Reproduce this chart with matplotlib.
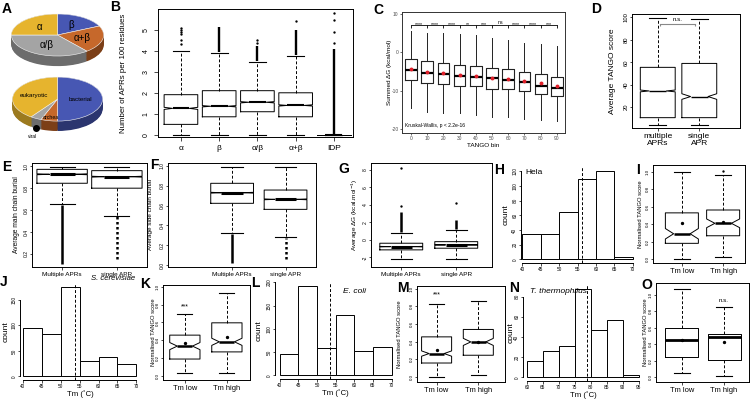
import numpy as np
import matplotlib.pyplot as plt

plt.rcParams['font.family'] = ['Liberation Sans', 'DejaVu Sans']
plt.rcParams['axes.linewidth'] = 0.7

# ---------------- DATA ----------------
# A: pies
a_struct_labels = ['β', 'α+β', 'α/β', 'α']
a_struct_fracs = [0.18, 0.21, 0.36, 0.25]
a_org_labels = ['bacterial', 'archea', 'viral', 'eukaryotic']
a_org_fracs = [0.50, 0.06, 0.04, 0.40]

# B: APRs per 100 residues
b_groups = ['α', 'β', 'α/β', 'α+β', 'IDP']
b_whislo = [0.0, 0.0, 0.0, 0.0, 0.0]
b_q1 = [0.52, 0.88, 1.12, 0.88, 0.0]
b_med = [1.28, 1.38, 1.57, 1.42, 0.0]
b_q3 = [1.93, 2.12, 2.12, 2.02, 0.0]
b_whishi = [4.0, 3.92, 3.5, 3.75, 0.0]
b_notch = [0.05, 0.03, 0.03, 0.03, 0.0]
b_fliers = [[4.35, 4.55, 4.8, 4.9, 5.0, 5.1], [], [4.4, 4.55], [5.45], [4.4, 4.9, 5.5, 5.8]]
b_dense = [None, (3.95, 5.15), (3.55, 4.25), (3.8, 5.0), (0.05, 4.1)]

# C: summed dG per TANGO bin
c_bins = ['0', '10', '20', '30', '40', '50', '60', '70', '80', '90']
c_whislo = [-14.6, -15.6, -15.9, -15.9, -16.4, -16.9, -16.9, -17.4, -17.7, -17.9]
c_q1 = [-7.2, -8.0, -8.3, -8.7, -8.7, -9.5, -9.5, -10.2, -11.0, -11.5]
c_med = [-4.6, -5.4, -5.7, -6.1, -6.4, -6.7, -7.2, -7.7, -8.7, -9.2]
c_q3 = [-1.8, -2.3, -2.8, -3.3, -3.6, -4.1, -4.4, -5.1, -5.7, -6.4]
c_whishi = [5.4, 4.9, 4.9, 4.6, 4.4, 3.6, 3.1, 2.4, 2.0, 1.5]
c_mean = [-4.4, -5.1, -5.5, -5.9, -6.2, -6.6, -7.0, -7.5, -8.1, -8.7]
c_sig = ['****', '****', '****', '**', '***', 'ns', '****', '****', '***']

# D: average TANGO score
d_groups = ['multiple\nAPRs', 'single\nAPR']
d_whislo = [4.5, 4.5]
d_q1 = [10.7, 10.7]
d_med = [34.5, 29.5]
d_q3 = [55.5, 59.0]
d_whishi = [99.5, 98.5]
d_notch = [0.8, 2.5]

# E, F, G: burial and dG, multiple vs single APR
efg_groups = ['Multiple APRs', 'single APR']
e_whislo = [0.653, 0.55]
e_q1 = [0.845, 0.80]
e_med = [0.927, 0.905]
e_q3 = [0.972, 0.96]
e_whishi = [0.995, 0.995]
e_dense = [(0.11, 0.645), (0.15, 0.545)]

f_whislo = [0.32, 0.286]
f_q1 = [0.623, 0.562]
f_med = [0.73, 0.663]
f_q3 = [0.825, 0.757]
f_whishi = [0.99, 0.99]
f_dense = [(0.02, 0.31), (0.06, 0.275)]

g_whislo = [-2.2, -2.2]
g_q1 = [-1.14, -0.95]
g_med = [-0.77, -0.57]
g_q3 = [-0.38, -0.2]
g_whishi = [0.83, 1.14]
g_fliers = [[3.9, 8.2], [4.2]]
g_dense = [(0.9, 3.25), (1.2, 2.3)]

# H, J, L, N: Tm histograms
h_edges = [40, 45, 50, 55, 60, 65, 70]
h_counts = [35, 34, 64, 110, 121, 3]
h_tm = 56.1
j_edges = [40, 45, 50, 55, 60, 65, 70]
j_counts = [94, 84, 176, 30, 38, 25]
j_tm = 53.8
l_edges = [40, 45, 50, 55, 60, 65, 70]
l_counts = [45, 193, 58, 130, 52, 61]
l_tm = 53.5
n_edges = [60, 65, 70, 75, 80, 85, 90, 95]
n_counts = [16, 26, 31, 88, 47, 57, 2]
n_tm = 78.8

# I, K, M, O: normalised TANGO score, Tm low vs Tm high
tm_groups = ['Tm low', 'Tm high']
i_whislo = [0.0, 0.026]
i_q1 = [0.18, 0.267]
i_med = [0.29, 0.41]
i_q3 = [0.53, 0.563]
i_whishi = [1.0, 0.97]
i_mean = [0.41, 0.43]
i_notch = [0.06, 0.05]
i_fliers = [[], [1.01]]

k_whislo = [0.028, 0.035]
k_q1 = [0.19, 0.27]
k_med = [0.335, 0.383]
k_q3 = [0.458, 0.596]
k_whishi = [0.694, 0.927]
k_mean = [0.365, 0.44]
k_notch = [0.04, 0.04]

m_whislo = [0.0, 0.019]
m_q1 = [0.158, 0.246]
m_med = [0.265, 0.397]
m_q3 = [0.454, 0.538]
m_whishi = [0.83, 0.863]
m_mean = [0.31, 0.40]
m_notch = [0.03, 0.04]

o_whislo = [0.048, 0.016]
o_q1 = [0.25, 0.21]
o_med = [0.453, 0.486]
o_q3 = [0.595, 0.526]
o_whishi = [1.07, 0.85]
o_mean = [0.453, 0.433]

# ---------------- HELPERS ----------------
W, H = 750, 400
fig = plt.figure(figsize=(7.5, 4), dpi=100)


def px_axes(x0, y0, x1, y1):
    return fig.add_axes([x0 / W, 1 - y1 / H, (x1 - x0) / W, (y1 - y0) / H])


def letter(x, y, s):
    fig.text(x / W, 1 - y / H, s, fontsize=10, fontweight='bold', va='top', ha='left')


def ylab(ax, text, right_px, size):
    ax.set_ylabel(text, fontsize=size)
    pos = ax.get_position()
    ax.yaxis.set_label_coords((right_px / W - pos.x0) / pos.width, 0.5)


def make_stats(whislo, q1, med, q3, whishi, notch=None, fliers=None, mean=None):
    out = []
    for i in range(len(med)):
        s = dict(whislo=whislo[i], q1=q1[i], med=med[i], q3=q3[i], whishi=whishi[i],
                 fliers=fliers[i] if fliers is not None else [])
        if notch is not None:
            s['cilo'] = med[i] - notch[i]
            s['cihi'] = med[i] + notch[i]
        if mean is not None:
            s['mean'] = mean[i]
        out.append(s)
    return out


def rbox(ax, stats, positions, width, notch=True, med_lw=2.0, means=False):
    ax.bxp(stats, positions=positions, widths=width, shownotches=notch, showmeans=means,
           capwidths=width * 0.5, manage_ticks=False,
           boxprops=dict(color='black', linewidth=0.7),
           whiskerprops=dict(color='black', linewidth=0.7, linestyle=(0, (3, 2))),
           capprops=dict(color='black', linewidth=0.8),
           medianprops=dict(color='black', linewidth=med_lw, solid_capstyle='butt'),
           meanprops=dict(marker='o', markersize=1.4, markerfacecolor='black',
                          markeredgecolor='black'),
           flierprops=dict(marker='o', markersize=1.7, markerfacecolor='black',
                           markeredgecolor='none', linestyle='none'))


def dense(ax, positions, ranges, styles, lw=1.6):
    for p, r, st in zip(positions, ranges, styles):
        if r is not None:
            ax.vlines(p, r[0], r[1], colors='black', linewidth=lw, linestyles=st)


def r_yticks(ax, ticks, labels, size=3.6):
    ax.set_yticks(ticks)
    ax.set_yticklabels(labels, rotation=90, va='center', fontsize=size)
    ax.tick_params(axis='y', length=1.8, width=0.5, pad=0.8)


def r_xticks(ax, ticks, labels, size=5, pad=1.5, length=1.8):
    ax.set_xticks(ticks)
    ax.set_xticklabels(labels, fontsize=size)
    ax.tick_params(axis='x', length=length, width=0.5, pad=pad)


def r_hist(ax, edges, counts, tm, xlim, yticks, label, lab_pos, italic=False, ha='left',
           size=6):
    widths = np.diff(edges)
    ax.bar(edges[:-1], counts, width=widths, align='edge', color='white',
           edgecolor='black', linewidth=0.7)
    ax.axvline(tm, color='black', linestyle=(0, (3, 2)), linewidth=0.7)
    top = max(counts)
    ax.set_xlim(xlim)
    ax.set_ylim(-0.04 * top, max(1.04 * top, yticks[-1]))
    for s in ['top', 'right']:
        ax.spines[s].set_visible(False)
    ax.spines['left'].set_bounds(yticks[0], yticks[-1])
    ax.spines['bottom'].set_bounds(edges[0], edges[-1])
    r_yticks(ax, yticks, [str(t) for t in yticks], size=3.4)
    r_xticks(ax, edges, [str(t) for t in edges], size=3.4, pad=1)
    ax.text(lab_pos[0], lab_pos[1], label, transform=ax.transAxes, fontsize=size,
            style='italic' if italic else 'normal', ha=ha, va='center', clip_on=False)


def pie3d(ax, fracs, cols, sides, depth, xlim, ylim):
    for d in np.linspace(depth, 0.0, 16):
        ax.pie(fracs, colors=sides, startangle=90, counterclock=False, center=(0, -d),
               wedgeprops=dict(linewidth=0))
    ax.pie(fracs, colors=cols, startangle=90, counterclock=False,
           wedgeprops=dict(linewidth=0.4, edgecolor='#f4f4f4'))
    ax.set_aspect('auto')
    ax.set_xlim(xlim)
    ax.set_ylim(ylim)
    ax.axis('off')


def pie_label_pos(fracs, i, r):
    start = 90 - 360 * sum(fracs[:i])
    mid = np.deg2rad(start - 180 * fracs[i])
    return r * np.cos(mid), r * np.sin(mid)


yellow, blue, orange, grey = '#e6b42e', '#4757b3', '#c6682b', '#a4a4a4'
yellow_d, blue_d, orange_d, grey_d = '#9c7a1f', '#2b356f', '#7c3f17', '#6c6c6c'

# ---------------- A ----------------
ax = px_axes(10, 12, 105, 68)
pie3d(ax, a_struct_fracs, [blue, orange, grey, yellow], [blue_d, orange_d, grey_d, yellow_d],
      0.48, (-1.03, 1.03), (-1.57, 1.095))
for i, lab in enumerate(a_struct_labels):
    x, y = pie_label_pos(a_struct_fracs, i, 0.55)
    ax.text(x, y, lab, fontsize=7, ha='center', va='center')

ax = px_axes(10, 76, 105, 140)
pie3d(ax, a_org_fracs, [blue, orange, grey, yellow], [blue_d, orange_d, grey_d, yellow_d],
      0.45, (-1.055, 1.055), (-1.86, 1.05))
for i, (lab, r, fs) in enumerate(zip(a_org_labels, [0.5, 0.84, None, 0.56], [4.5, 3.8, 3.5, 4.5])):
    if r is None:
        x, y = pie_label_pos(a_org_fracs, i, 1.0)
        ax.plot([x, x], [y - 0.3, y - 0.45], color='black', linewidth=0.6)
        ax.plot(x, y - 0.45, 'o', color='black', markersize=4)
        ax.text(x - 0.08, y - 0.82, lab, fontsize=fs, ha='center', va='center')
    else:
        x, y = pie_label_pos(a_org_fracs, i, r)
        ax.text(x, y, lab, fontsize=fs, ha='center', va='center')

# ---------------- B ----------------
ax = px_axes(158, 9, 353, 137)
pos = np.arange(1, len(b_groups) + 1)
rbox(ax, make_stats(b_whislo, b_q1, b_med, b_q3, b_whishi, b_notch, b_fliers), pos, 0.88,
     med_lw=1.5)
dense(ax, pos, b_dense, ['solid'] * 5, lw=1.7)
ax.set_xlim(0.4, 5.5)
ax.set_ylim(-0.08, 6.0)
r_yticks(ax, range(6), [str(v) for v in range(6)], size=5)
ax.tick_params(axis='y', length=3, pad=3)
r_xticks(ax, pos, b_groups, size=6, pad=3, length=3)
ylab(ax, 'Number of APRs per 100 residues', 127, 5.7)

# ---------------- C ----------------
ax = px_axes(402, 12, 565, 133)
pos = np.arange(len(c_bins))
ax.bxp(make_stats(c_whislo, c_q1, c_med, c_q3, c_whishi, mean=c_mean), positions=pos,
       widths=0.72, showcaps=False, showmeans=True, showfliers=False, manage_ticks=False,
       boxprops=dict(color='#222222', linewidth=0.8),
       whiskerprops=dict(color='#222222', linewidth=0.7),
       medianprops=dict(color='black', linewidth=1.6, solid_capstyle='butt'),
       meanprops=dict(marker='o', markersize=1.8, markerfacecolor='#e0202a',
                      markeredgecolor='#e0202a'))
ax.plot([pos[0], pos[-1]], [6.9, 6.9], color='black', linewidth=0.6)
ax.vlines(pos, 6.2, 6.9, colors='black', linewidth=0.6)
for k, s in enumerate(c_sig):
    ax.text(pos[k] + 0.5, 7.0 if s == 'ns' else 6.6, s, fontsize=3.8, ha='center', va='bottom')
ax.text(-0.35, -19.1, 'Kruskal-Wallis, p < 2.2e-16', fontsize=3.6, ha='left', va='center')
ax.set_xlim(-0.55, 9.5)
ax.set_ylim(-21, 10.4)
ax.set_yticks([-20, -10, 0, 10])
ax.set_yticklabels(['-20', '-10', '0', '10'], fontsize=3.5, color='#4d4d4d')
ax.set_xticks(pos)
ax.set_xticklabels(c_bins, fontsize=3.5, color='#4d4d4d')
ax.tick_params(length=1.5, width=0.5, pad=1, color='#333333')
ax.set_xlabel('TANGO bin', fontsize=4.6, labelpad=1)
for s in ax.spines.values():
    s.set_color('#333333')
ylab(ax, 'Summed ΔG (kcal/mol)', 392, 4.6)

# ---------------- D ----------------
ax = px_axes(632, 14, 740, 128)
pos = [1, 2]
rbox(ax, make_stats(d_whislo, d_q1, d_med, d_q3, d_whishi, d_notch), pos, 0.84, med_lw=1.0)
ax.plot([1.06, 1.9], [94, 94], color='#888888', linewidth=0.8)
ax.vlines([1.06, 1.9], 92, 94, colors='#888888', linewidth=0.8)
ax.text(1.48, 95.5, 'n.s.', fontsize=4.5, ha='center', va='bottom')
ax.set_xlim(0.38, 2.98)
ax.set_ylim(1.5, 103)
r_yticks(ax, [20, 40, 60, 80, 100], ['20', '40', '60', '80', '100'], size=4.2)
r_xticks(ax, pos, d_groups, size=6, pad=2)
for t in ax.get_xticklabels():
    t.set_linespacing(0.95)
ylab(ax, 'Average TANGO score', 616, 6)

# ---------------- E ----------------
ax = px_axes(32, 163, 147, 267)
pos = [1, 2]
rbox(ax, make_stats(e_whislo, e_q1, e_med, e_q3, e_whishi, [0.004, 0.004]), pos, 0.92,
     med_lw=2.2)
dense(ax, pos, e_dense, ['solid', (0, (1, 1))], lw=1.8)
ax.set_xlim(0.45, 2.55)
ax.set_ylim(0.08, 1.03)
r_yticks(ax, [0.2, 0.4, 0.6, 0.8, 1.0], ['0.2', '0.4', '0.6', '0.8', '1.0'])
r_xticks(ax, pos, efg_groups, size=4.6, pad=1.5)
ylab(ax, 'Average main chain burial', 20, 4.8)

# ---------------- F ----------------
ax = px_axes(168, 163, 316, 267)
rbox(ax, make_stats(f_whislo, f_q1, f_med, f_q3, f_whishi, [0.004, 0.004]), pos, 0.8,
     med_lw=2.2)
dense(ax, pos, f_dense, ['solid', (0, (1, 1))], lw=1.8)
ax.set_xlim(-0.2, 2.57)
ax.set_ylim(-0.02, 1.03)
r_yticks(ax, [0.0, 0.2, 0.4, 0.6, 0.8, 1.0], ['0.0', '0.2', '0.4', '0.6', '0.8', '1.0'])
r_xticks(ax, pos, efg_groups, size=4.6, pad=1.5)
ylab(ax, 'Average side chain burial', 153, 4.6)

# ---------------- G ----------------
ax = px_axes(371, 163, 492, 267)
rbox(ax, make_stats(g_whislo, g_q1, g_med, g_q3, g_whishi, [0.03, 0.03], g_fliers), pos, 0.78,
     med_lw=2.2)
dense(ax, pos, g_dense, ['solid', 'solid'], lw=1.8)
ax.set_xlim(0.45, 2.65)
ax.set_ylim(-3.1, 8.8)
r_yticks(ax, [-2, 0, 2, 4, 6, 8], ['-2', '0', '2', '4', '6', '8'])
r_xticks(ax, pos, efg_groups, size=4.6, pad=1.5)
ylab(ax, r'Average $\Delta$G (kcal.mol$^{-1}$)', 360, 4.6)

# ---------------- H ----------------
ax = px_axes(521, 167, 637, 263)
r_hist(ax, h_edges, h_counts, h_tm, (39.6, 71.2), [0, 20, 40, 60, 80, 100, 120], 'Hela',
       (0.04, 0.94))
ylab(ax, 'count', 510, 6)

# ---------------- I ----------------
ax = px_axes(653, 165, 745, 263)
rbox(ax, make_stats(i_whislo, i_q1, i_med, i_q3, i_whishi, i_notch, i_fliers, i_mean), pos,
     0.8, med_lw=1.8, means=True)
ax.set_xlim(0.3, 2.53)
ax.set_ylim(-0.046, 1.08)
r_yticks(ax, [0.0, 0.2, 0.4, 0.6, 0.8, 1.0], ['0.0', '0.2', '0.4', '0.6', '0.8', '1.0'], 3.2)
r_xticks(ax, pos, tm_groups, size=5.4, pad=1.5)
ylab(ax, 'Normalised TANGO score', 643, 4.2)

# ---------------- J ----------------
ax = px_axes(20, 283, 141, 380)
r_hist(ax, j_edges, j_counts, j_tm, (39.3, 71.2), [0, 50, 100, 150], 'S. cerevisiae',
       (0.955, 1.045), italic=True, ha='right', size=5.6)
ax.set_xlabel('Tm (˚C)', fontsize=5.6, labelpad=1)
ylab(ax, 'count', 10, 6)

# ---------------- K ----------------
ax = px_axes(163, 285, 250, 380)
rbox(ax, make_stats(k_whislo, k_q1, k_med, k_q3, k_whishi, k_notch, mean=k_mean), pos, 0.72,
     med_lw=1.8, means=True)
ax.text(1, 0.78, '***', fontsize=5, ha='center', va='center')
ax.set_xlim(0.48, 2.55)
ax.set_ylim(-0.045, 1.02)
r_yticks(ax, [0.0, 0.2, 0.4, 0.6, 0.8, 1.0], ['0.0', '0.2', '0.4', '0.6', '0.8', '1.0'], 3.2)
r_xticks(ax, pos, tm_groups, size=5.4, pad=1.5)
ylab(ax, 'Normalised TANGO score', 156, 4.2)

# ---------------- L ----------------
ax = px_axes(275, 282, 396, 379)
r_hist(ax, l_edges, l_counts, l_tm, (38.7, 71.2), [0, 50, 100, 150, 200], 'E. coli',
       (0.56, 0.9), italic=True)
ax.set_xlabel('Tm (˚C)', fontsize=5.6, labelpad=1)
ylab(ax, 'count', 263, 6)

# ---------------- M ----------------
ax = px_axes(417, 286, 505, 382)
rbox(ax, make_stats(m_whislo, m_q1, m_med, m_q3, m_whishi, m_notch, mean=m_mean), pos, 0.72,
     med_lw=1.8, means=True)
ax.text(1, 0.93, '***', fontsize=5, ha='center', va='center')
ax.set_xlim(0.53, 2.64)
ax.set_ylim(-0.057, 1.03)
r_yticks(ax, [0.0, 0.2, 0.4, 0.6, 0.8, 1.0], ['0.0', '0.2', '0.4', '0.6', '0.8', '1.0'], 3.2)
r_xticks(ax, pos, tm_groups, size=5.4, pad=1.5)
ylab(ax, 'Normalised TANGO score', 402, 4.2)

# ---------------- N ----------------
ax = px_axes(523, 285, 643, 381)
r_hist(ax, n_edges, n_counts, n_tm, (58.8, 96.4), [0, 20, 40, 60, 80], 'T. thermophilus',
       (0.06, 0.93), italic=True)
ax.set_xlabel('Tm (˚C)', fontsize=5.6, labelpad=1)
ylab(ax, 'count', 515, 6)

# ---------------- O ----------------
ax = px_axes(656, 283, 749, 382)
rbox(ax, make_stats(o_whislo, o_q1, o_med, o_q3, o_whishi, mean=o_mean), pos, 0.78,
     notch=False, med_lw=2.0, means=True)
ax.text(2, 0.905, 'n.s.', fontsize=4.5, ha='center', va='bottom')
ax.set_xlim(0.39, 2.59)
ax.set_ylim(-0.06, 1.146)
r_yticks(ax, [0.0, 0.2, 0.4, 0.6, 0.8, 1.0], ['0.0', '0.2', '0.4', '0.6', '0.8', '1.0'], 3.2)
r_xticks(ax, pos, tm_groups, size=5.4, pad=1.5)
ylab(ax, 'Normalised TANGO score', 648, 4.2)

# ---------------- panel letters ----------------
for s, x, y in [('A', 2, 2), ('B', 110, 0), ('C', 373, 3), ('D', 591, 2),
                ('E', 2, 160), ('F', 150, 158), ('G', 338, 162), ('H', 494, 163),
                ('I', 636, 163), ('J', 0, 275), ('K', 140, 277), ('L', 251, 276),
                ('M', 397, 281), ('N', 509, 281), ('O', 641, 278)]:
    letter(x, y, s)

fig.savefig('out.png', dpi=100)
